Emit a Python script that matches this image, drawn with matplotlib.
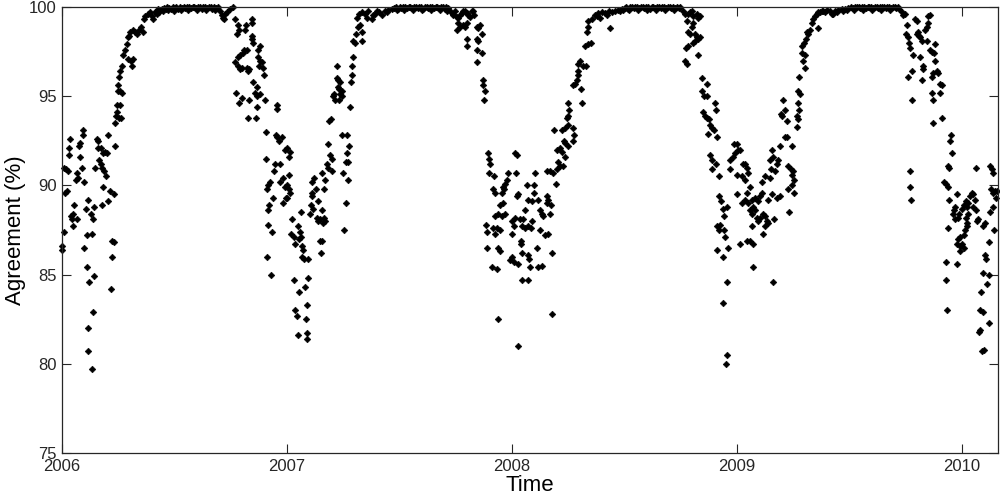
import matplotlib.pyplot as plt

plt.rcParams['font.family'] = ['Liberation Sans', 'DejaVu Sans']

# (years since 1 Jan 2006, agreement %)
pts_2006 = [
    (.001, 86.6), (.001, 86.4), (.009, 87.4), (.013, 89.6), (.021, 89.7), (.010, 91.0), (.018, 90.9),
    (.028, 90.8), (.031, 92.1), (.033, 91.7), (.036, 92.6), (.040, 88.3), (.043, 88.1), (.050, 88.4),
    (.049, 87.7), (.053, 88.9), (.065, 88.1), (.061, 90.3), (.068, 90.7), (.073, 90.4), (.076, 92.2),
    (.081, 92.4), (.081, 91.6), (.087, 91.0), (.092, 93.1), (.095, 92.8), (.098, 90.2), (.099, 86.5),
    (.110, 85.4), (.113, 87.2), (.121, 84.6), (.132, 87.3), (.107, 88.7), (.117, 89.2), (.114, 82.0),
    (.117, 80.7), (.135, 79.7), (.136, 82.9), (.142, 84.9), (.127, 88.4), (.139, 88.1), (.144, 88.8),
    (.147, 91.0), (.154, 92.6), (.161, 92.5), (.166, 91.4), (.172, 91.2), (.179, 91.0), (.187, 90.8),
    (.194, 90.5), (.159, 92.1), (.172, 92.1), (.181, 91.8), (.191, 91.9), (.201, 91.8), (.184, 89.9),
    (.179, 88.9), (.206, 89.1), (.213, 89.7), (.233, 89.5), (.206, 92.8), (.236, 92.2), (.221, 86.9),
    (.230, 86.8), (.224, 86.0), (.218, 84.2), (.236, 93.5), (.240, 93.9), (.244, 94.1), (.246, 94.5),
    (.258, 94.5), (.253, 93.8), (.264, 93.8), (.247, 95.3), (.258, 95.3), (.265, 95.2), (.247, 95.6),
    (.253, 96.1), (.259, 96.4), (.265, 96.7), (.273, 97.3), (.280, 97.6), (.287, 97.9), (.293, 98.3),
    (.298, 98.4), (.295, 97.1), (.307, 97.0), (.317, 97.1), (.313, 96.7), (.304, 98.6), (.314, 98.7),
    (.324, 98.6), (.332, 98.5), (.342, 98.7), (.351, 98.9), (.359, 98.6), (.363, 99.3), (.369, 99.5),
    (.381, 99.6), (.393, 99.7), (.406, 99.3), (.413, 99.7), (.400, 99.5), (.421, 99.6), (.432, 99.7),
    (.420, 99.8), (.428, 99.9), (.436, 99.85), (.444, 99.9), (.452, 99.95), (.460, 99.9), (.468, 100),
    (.476, 99.95), (.484, 99.9), (.492, 100), (.500, 99.95), (.508, 100), (.516, 99.9), (.524, 100),
    (.532, 99.95), (.540, 100), (.548, 99.95), (.556, 100), (.564, 100), (.572, 99.95), (.580, 100),
    (.588, 100), (.596, 99.95), (.604, 100), (.612, 100), (.620, 99.9), (.628, 100), (.636, 100),
    (.644, 99.95), (.652, 100), (.660, 100), (.668, 99.9), (.676, 100), (.684, 99.95), (.692, 100),
    (.448, 99.8), (.472, 99.85), (.496, 99.8), (.528, 99.85), (.560, 99.85), (.600, 99.85),
    (.640, 99.85), (.680, 99.85),
    (.702, 99.8), (.710, 99.55), (.714, 99.4), (.720, 99.3), (.724, 99.6), (.732, 99.7), (.747, 99.9),
    (.759, 100),
    (.769, 99.3), (.780, 99.0), (.787, 98.7), (.776, 98.5), (.818, 99.0), (.813, 98.7), (.843, 99.3),
    (.843, 99.1), (.843, 98.4), (.843, 98.2), (.850, 98.0), (.880, 97.8), (.873, 97.6), (.824, 97.6),
    (.809, 97.6), (.803, 97.4), (.791, 97.3), (.784, 97.2), (.769, 96.9), (.784, 96.7), (.791, 96.5),
    (.799, 96.6), (.821, 96.6), (.828, 96.4), (.833, 96.5), (.873, 97.2), (.880, 97.0), (.887, 96.9),
    (.877, 96.7), (.894, 96.6), (.897, 96.2), (.850, 95.8), (.865, 95.5), (.858, 95.2), (.868, 95.0),
    (.880, 95.1), (.902, 94.8), (.868, 94.4), (.773, 95.2), (.788, 94.6), (.799, 94.9), (.833, 94.8),
    (.828, 93.8), (.862, 93.8), (.954, 94.5), (.957, 94.3), (.907, 93.0), (.951, 92.8), (.954, 92.7),
    (.966, 92.5), (.976, 92.7), (.991, 92.0), (.907, 91.5), (.947, 91.2), (.969, 91.2), (.942, 90.8),
    (.924, 90.2), (.917, 90.0), (.910, 89.8), (.969, 90.2), (.981, 90.4), (.991, 89.9), (.936, 89.3),
    (.996, 89.3), (.984, 89.0), (.921, 88.9), (.915, 88.6), (.914, 87.8), (.935, 87.4), (.910, 86.0),
    (.930, 85.0),
]

pts_2007 = [
    (1.000, 92.1), (1.014, 91.9), (1.010, 91.6), (1.007, 90.6), (1.000, 90.0), (1.007, 89.8),
    (1.014, 89.6), (1.000, 89.3), (1.024, 88.1), (1.019, 87.3), (1.030, 87.1), (1.050, 87.7),
    (1.058, 87.4), (1.062, 87.1), (1.053, 87.0), (1.036, 86.7), (1.067, 86.6), (1.072, 86.4),
    (1.065, 86.0), (1.077, 85.9), (1.095, 85.9), (1.031, 84.7), (1.092, 84.8), (1.053, 84.0),
    (1.080, 84.3), (1.090, 83.3), (1.036, 83.0), (1.043, 82.7), (1.083, 82.5), (1.048, 81.6),
    (1.090, 81.7), (1.087, 81.4), (1.062, 88.5), (1.110, 90.2), (1.121, 90.4), (1.110, 89.6),
    (1.127, 89.8), (1.110, 89.4), (1.107, 88.9), (1.117, 88.7), (1.102, 88.4), (1.139, 89.1),
    (1.132, 88.2), (1.147, 88.1), (1.136, 88.0), (1.157, 88.6), (1.166, 88.2), (1.169, 88.0),
    (1.161, 87.9), (1.154, 90.7), (1.169, 90.3), (1.166, 89.8), (1.147, 86.9), (1.154, 86.9),
    (1.151, 86.2), (1.176, 91.2), (1.184, 91.0), (1.181, 92.3), (1.191, 91.7), (1.199, 91.5),
    (1.199, 90.8), (1.188, 93.6), (1.196, 93.7), (1.206, 95.0), (1.213, 94.8), (1.210, 95.1),
    (1.221, 96.0), (1.228, 95.9), (1.236, 95.8), (1.225, 95.5), (1.231, 95.4), (1.243, 95.3),
    (1.236, 95.1), (1.221, 96.7), (1.231, 94.8), (1.246, 95.0), (1.243, 92.8), (1.265, 92.8),
    (1.276, 92.2), (1.265, 91.8), (1.261, 91.3), (1.270, 91.3), (1.250, 90.7), (1.270, 90.3),
    (1.261, 89.0), (1.255, 87.5), (1.280, 94.4), (1.284, 95.8), (1.287, 96.2), (1.287, 96.7),
    (1.295, 97.2), (1.302, 98.0), (1.295, 98.1), (1.305, 98.5), (1.314, 98.9), (1.335, 98.1),
    (1.324, 99.0), (1.335, 98.6), (1.310, 99.4), (1.320, 99.6), (1.332, 99.7), (1.347, 99.6),
    (1.361, 99.8), (1.384, 99.55), (1.376, 99.3), (1.399, 99.75), (1.421, 99.55), (1.436, 99.8),
    (1.450, 99.85), (1.465, 99.9), (1.354, 99.4), (1.392, 99.6), (1.410, 99.7), (1.444, 99.7),
    (1.476, 99.95), (1.484, 100), (1.492, 99.9), (1.500, 100), (1.508, 99.95), (1.516, 100),
    (1.524, 100), (1.532, 99.95), (1.540, 100), (1.548, 100), (1.556, 99.95), (1.564, 100),
    (1.572, 100), (1.580, 99.95), (1.588, 100), (1.596, 100), (1.604, 99.9), (1.612, 100),
    (1.620, 100), (1.628, 99.95), (1.636, 100), (1.644, 100), (1.652, 99.95), (1.660, 100),
    (1.668, 100), (1.676, 99.95), (1.684, 100), (1.692, 100), (1.700, 99.9), (1.708, 100),
    (1.716, 99.95), (1.488, 99.85), (1.520, 99.85), (1.560, 99.85), (1.600, 99.85),
    (1.640, 99.85), (1.680, 99.85), (1.712, 99.8),
    (1.725, 99.8), (1.736, 99.6), (1.739, 99.55), (1.747, 99.75), (1.754, 99.45), (1.761, 99.4),
    (1.769, 99.55), (1.776, 99.65), (1.784, 99.8), (1.791, 99.75), (1.799, 99.65), (1.806, 99.55),
    (1.813, 99.45), (1.821, 99.75), (1.828, 99.8), (1.831, 99.55),
    (1.761, 99.1), (1.769, 98.9), (1.757, 98.7), (1.784, 99.0), (1.791, 98.9), (1.799, 99.1),
    (1.843, 98.9), (1.850, 98.8), (1.858, 99.0), (1.865, 98.5), (1.799, 98.2), (1.802, 97.8),
    (1.843, 98.2), (1.850, 98.1), (1.843, 97.6), (1.865, 97.4), (1.843, 96.9), (1.873, 95.9),
    (1.873, 95.6), (1.880, 95.3), (1.876, 94.8), (1.893, 91.8), (1.896, 91.5), (1.901, 91.2),
    (1.896, 90.7), (1.919, 90.5), (1.916, 89.8), (1.924, 89.6), (1.959, 89.9), (1.969, 90.1),
    (1.979, 90.3), (1.984, 90.7), (1.954, 89.6), (1.964, 89.8), (1.947, 88.9), (1.959, 89.0),
    (1.969, 88.4), (1.954, 88.3), (1.939, 88.4), (1.924, 88.3), (1.884, 87.8), (1.887, 87.4),
    (1.914, 87.6), (1.924, 87.3), (1.932, 87.6), (1.947, 87.5), (1.999, 88.0), (1.999, 87.3),
    (1.891, 86.5), (1.939, 86.5), (1.947, 86.3), (1.910, 85.4), (1.932, 85.3), (1.999, 86.0),
    (1.991, 85.8), (1.936, 82.5),
]

pts_2008 = [
    (2.007, 87.7), (2.013, 88.2), (2.007, 85.7), (2.013, 91.8), (2.024, 91.7), (2.018, 90.7),
    (2.028, 89.5), (2.020, 89.4), (2.028, 81.0),
    (2.036, 88.1), (2.050, 88.1), (2.043, 87.7), (2.058, 87.6), (2.073, 87.7), (2.084, 87.6),
    (2.040, 86.9), (2.040, 86.7), (2.028, 85.6), (2.043, 86.2), (2.073, 86.1), (2.076, 85.9),
    (2.080, 85.4), (2.043, 84.7), (2.073, 84.7), (2.065, 90.0), (2.099, 90.0), (2.102, 90.7),
    (2.099, 89.6), (2.073, 89.2), (2.087, 89.1), (2.117, 89.2), (2.058, 88.6), (2.090, 88.0),
    (2.124, 88.6), (2.132, 88.4), (2.139, 88.3), (2.154, 89.4), (2.161, 89.2), (2.154, 89.0),
    (2.173, 88.9), (2.169, 88.4), (2.124, 87.5), (2.147, 87.2), (2.161, 87.3), (2.109, 86.5),
    (2.117, 85.4), (2.132, 85.5), (2.176, 86.2), (2.176, 82.8), (2.154, 90.8), (2.169, 90.8),
    (2.184, 90.7), (2.199, 90.9), (2.213, 91.1), (2.228, 91.1), (2.195, 90.1), (2.206, 91.3),
    (2.236, 91.6), (2.221, 91.9), (2.199, 92.0), (2.213, 92.1), (2.236, 92.4), (2.250, 92.2),
    (2.232, 92.5), (2.273, 92.5), (2.188, 93.1), (2.221, 93.1), (2.236, 93.2), (2.250, 93.4),
    (2.273, 93.2), (2.277, 92.8), (2.243, 93.8), (2.250, 93.9), (2.253, 94.2), (2.247, 94.6),
    (2.273, 95.6), (2.280, 95.7), (2.287, 95.9), (2.295, 96.2), (2.292, 96.4), (2.307, 95.4),
    (2.310, 94.6), (2.295, 96.8), (2.302, 97.0), (2.317, 96.7), (2.327, 96.7), (2.324, 97.8),
    (2.339, 97.9), (2.350, 98.0), (2.332, 98.6), (2.339, 98.9), (2.336, 99.2), (2.354, 99.3),
    (2.369, 99.55), (2.384, 99.65), (2.391, 99.4), (2.402, 99.7), (2.436, 98.8), (2.421, 99.55),
    (2.443, 99.7), (2.458, 99.8), (2.487, 99.9), (2.376, 99.5), (2.412, 99.65), (2.430, 99.75),
    (2.470, 99.85), (2.480, 99.8), (2.494, 99.85),
    (2.500, 99.95), (2.508, 100), (2.516, 99.9), (2.524, 100), (2.532, 100), (2.540, 99.95),
    (2.548, 100), (2.556, 100), (2.564, 99.95), (2.572, 100), (2.580, 100), (2.588, 99.95),
    (2.596, 100), (2.604, 100), (2.612, 99.9), (2.620, 100), (2.628, 100), (2.636, 99.95),
    (2.644, 100), (2.652, 100), (2.660, 99.95), (2.668, 100), (2.676, 100), (2.684, 99.95),
    (2.692, 100), (2.700, 100), (2.708, 99.95), (2.716, 100), (2.724, 99.95), (2.732, 100),
    (2.740, 99.95), (2.748, 100), (2.520, 99.85), (2.560, 99.85), (2.600, 99.85),
    (2.640, 99.85), (2.680, 99.85), (2.720, 99.85),
    (2.761, 99.8), (2.769, 99.6), (2.784, 99.6), (2.791, 99.7), (2.799, 99.8), (2.806, 99.5),
    (2.821, 99.6), (2.828, 99.4), (2.836, 99.5), (2.779, 99.2), (2.806, 99.1), (2.799, 98.9),
    (2.791, 98.5), (2.784, 98.6), (2.813, 98.5), (2.821, 98.3), (2.828, 98.2), (2.836, 98.3),
    (2.806, 98.0), (2.813, 98.1), (2.784, 97.8), (2.773, 97.7), (2.769, 97.0), (2.776, 96.8),
    (2.828, 97.3), (2.844, 96.0), (2.865, 95.7), (2.844, 95.3), (2.853, 95.0), (2.865, 95.0),
    (2.902, 94.6), (2.907, 94.2), (2.850, 94.1), (2.858, 93.9), (2.865, 93.8), (2.877, 93.7),
    (2.880, 93.4), (2.887, 93.2), (2.898, 93.1), (2.873, 92.9), (2.910, 92.7), (2.880, 91.7),
    (2.887, 91.4), (2.907, 91.2), (2.887, 90.9), (2.921, 90.5), (2.921, 89.4), (2.927, 89.1),
    (2.939, 88.7), (2.954, 88.8), (2.942, 88.3), (2.913, 87.7), (2.924, 87.8), (2.921, 87.5),
    (2.942, 87.5), (2.947, 87.1), (2.913, 86.4), (2.939, 86.0), (2.961, 86.5), (2.956, 84.6),
    (2.939, 83.4), (2.956, 80.5), (2.953, 80.0), (2.987, 92.3), (2.981, 91.6), (2.969, 91.4),
    (2.993, 91.8), (2.969, 90.9),
]

pts_2009 = [
    (3.001, 92.3), (3.004, 92.0), (3.013, 92.0), (3.028, 91.2), (3.001, 90.6), (3.024, 90.5),
    (3.001, 89.5), (3.024, 89.0), (3.013, 86.7),
    (3.036, 91.2), (3.043, 91.0), (3.047, 90.7), (3.036, 90.3), (3.058, 89.9), (3.043, 89.6),
    (3.036, 89.2), (3.065, 89.2), (3.050, 89.0), (3.080, 89.3), (3.095, 89.1), (3.102, 89.4),
    (3.110, 89.6), (3.073, 88.8), (3.058, 88.6), (3.065, 88.4), (3.080, 88.6), (3.087, 88.2),
    (3.095, 88.0), (3.102, 88.2), (3.117, 88.4), (3.124, 88.3), (3.132, 88.0), (3.139, 87.9),
    (3.124, 87.7), (3.117, 87.3), (3.065, 87.7), (3.043, 86.9), (3.058, 86.9), (3.069, 86.7),
    (3.073, 85.4), (3.161, 84.6), (3.139, 89.2), (3.154, 89.5), (3.166, 88.1), (3.176, 89.3),
    (3.191, 89.4), (3.110, 90.2), (3.124, 90.5), (3.147, 90.4), (3.151, 90.9), (3.169, 90.8),
    (3.147, 91.4), (3.161, 91.6), (3.184, 91.4), (3.176, 91.2), (3.154, 92.0), (3.191, 92.2),
    (3.213, 92.7), (3.221, 92.7), (3.243, 92.2), (3.228, 91.1), (3.240, 90.9), (3.250, 90.8),
    (3.243, 90.6), (3.255, 90.3), (3.243, 90.0), (3.228, 89.8), (3.255, 89.6), (3.231, 88.5),
    (3.196, 94.0), (3.202, 93.9), (3.213, 94.2), (3.206, 94.8), (3.221, 93.6), (3.266, 93.9),
    (3.270, 93.7), (3.276, 94.2), (3.273, 94.6), (3.266, 93.3), (3.273, 95.3), (3.280, 95.1),
    (3.277, 96.1), (3.302, 96.6), (3.295, 97.0), (3.302, 97.3), (3.290, 97.4), (3.287, 97.8),
    (3.299, 98.0), (3.305, 98.2), (3.317, 98.5), (3.310, 98.6), (3.324, 98.7), (3.332, 99.1),
    (3.339, 99.3), (3.347, 99.5), (3.354, 99.6), (3.361, 99.7), (3.358, 98.8), (3.369, 99.7),
    (3.376, 99.75), (3.384, 99.8), (3.400, 99.85), (3.412, 99.8), (3.421, 99.6), (3.428, 99.6),
    (3.436, 99.8), (3.450, 99.85), (3.465, 99.9), (3.480, 99.9), (3.495, 99.95),
    (3.392, 99.7), (3.444, 99.7), (3.472, 99.8), (3.488, 99.85),
    (3.508, 100), (3.516, 99.95), (3.524, 100), (3.532, 100), (3.540, 100), (3.548, 99.95),
    (3.556, 100), (3.564, 100), (3.572, 99.95), (3.580, 100), (3.588, 100), (3.596, 100),
    (3.604, 99.95), (3.612, 100), (3.620, 100), (3.628, 99.95), (3.636, 100), (3.644, 100),
    (3.652, 100), (3.660, 99.95), (3.668, 100), (3.676, 100), (3.684, 99.95), (3.692, 100),
    (3.700, 100), (3.708, 99.95), (3.716, 100), (3.520, 99.85), (3.560, 99.85), (3.600, 99.85),
    (3.640, 99.85), (3.680, 99.85),
    (3.722, 99.9), (3.733, 99.7), (3.736, 99.55), (3.747, 99.6), (3.754, 99.0), (3.751, 98.5),
    (3.761, 98.3), (3.766, 98.0), (3.769, 97.7), (3.761, 96.1), (3.776, 96.4), (3.784, 97.3),
    (3.791, 99.3), (3.799, 99.2), (3.802, 98.5), (3.806, 98.6), (3.810, 98.4), (3.813, 98.3),
    (3.821, 98.1), (3.813, 97.2), (3.828, 96.7), (3.825, 96.5), (3.821, 95.9), (3.836, 98.7),
    (3.843, 98.9), (3.850, 99.5), (3.858, 99.55), (3.850, 99.1), (3.843, 98.1), (3.858, 97.6),
    (3.865, 97.5), (3.880, 97.9), (3.876, 97.4), (3.880, 97.0), (3.865, 96.1), (3.873, 96.3),
    (3.887, 96.4), (3.895, 96.3), (3.902, 95.7), (3.910, 95.6), (3.902, 95.2), (3.865, 95.2),
    (3.869, 94.8), (3.776, 94.8), (3.873, 93.5), (3.910, 93.8), (3.950, 92.8), (3.947, 92.5),
    (3.954, 91.8), (3.939, 91.1), (3.944, 91.0), (3.769, 90.8), (3.769, 89.9), (3.773, 89.2),
    (3.919, 90.2), (3.927, 90.1), (3.936, 89.9), (3.940, 89.2), (3.936, 87.6), (3.930, 85.7),
    (3.930, 84.7), (3.933, 83.0), (3.976, 89.5), (3.969, 88.8), (3.964, 88.6), (3.961, 88.4),
    (3.969, 88.1), (3.984, 88.2), (3.988, 88.4), (3.999, 88.7), (3.991, 87.1), (3.984, 87.0),
    (3.976, 86.7), (3.991, 86.6), (3.999, 86.7), (3.991, 86.3), (3.979, 85.6),
]

pts_2010 = [
    (4.007, 88.9), (4.019, 89.1), (4.021, 88.8), (4.028, 89.0), (4.036, 89.4), (4.044, 89.6),
    (4.050, 89.5), (4.058, 89.2), (4.050, 88.8), (4.062, 88.6), (4.073, 88.1), (4.065, 88.0),
    (4.028, 88.4), (4.019, 88.2), (4.021, 87.9), (4.024, 87.7), (4.013, 87.5), (4.007, 87.2),
    (4.007, 86.5), (4.062, 91.0), (4.124, 91.1), (4.132, 90.9), (4.139, 90.7), (4.127, 89.8),
    (4.136, 89.6), (4.147, 89.7), (4.154, 89.7), (4.151, 89.3), (4.139, 88.8), (4.124, 88.5),
    (4.102, 87.9), (4.095, 87.7), (4.142, 87.5), (4.121, 86.8), (4.102, 86.1), (4.107, 85.9),
    (4.092, 85.1), (4.118, 85.0), (4.110, 84.5), (4.084, 84.0), (4.080, 83.0), (4.092, 82.9),
    (4.118, 82.3), (4.080, 81.9), (4.077, 81.8), (4.099, 80.8), (4.089, 80.7),
]

seasons = [pts_2006, pts_2007, pts_2008, pts_2009, pts_2010]
year_ticks = [2006, 2007, 2008, 2009, 2010]
agree_ticks = [75, 80, 85, 90, 95, 100]

fig = plt.figure(figsize=(10, 5), dpi=100)
ax = fig.add_axes([0.062, 0.094, 0.936, 0.892])

for pts in seasons:
    t = [2006 + p[0] for p in pts]
    v = [p[1] for p in pts]
    ax.plot(t, v, ls='none', marker='D', ms=3.4, mfc='k', mec='k', mew=0.4, clip_on=False)

ax.set_xlim(2006, 2010.16)
ax.set_ylim(75, 100)
ax.set_xticks(year_ticks)
ax.set_yticks(agree_ticks)
ax.tick_params(direction='in', length=6.5, width=0.8, top=True, right=True,
               labelsize=12, colors='#262626', pad=4)
for s in ax.spines.values():
    s.set_color('#262626')
    s.set_linewidth(0.9)
ax.set_xlabel('Time', fontsize=16, labelpad=1)
ax.set_ylabel('Agreement (%)', fontsize=16, labelpad=2)

fig.savefig('out.png')
